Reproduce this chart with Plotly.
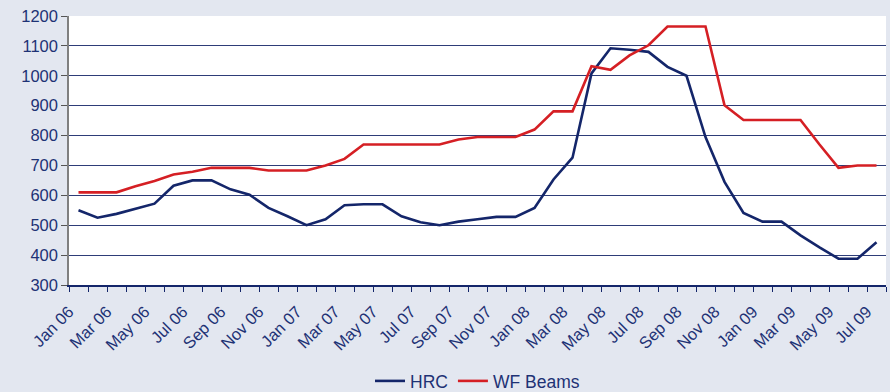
import plotly.graph_objects as go

months = ["Jan 06", "Feb 06", "Mar 06", "Apr 06", "May 06", "Jun 06", "Jul 06", "Aug 06",
          "Sep 06", "Oct 06", "Nov 06", "Dec 06", "Jan 07", "Feb 07", "Mar 07", "Apr 07",
          "May 07", "Jun 07", "Jul 07", "Aug 07", "Sep 07", "Oct 07", "Nov 07", "Dec 07",
          "Jan 08", "Feb 08", "Mar 08", "Apr 08", "May 08", "Jun 08", "Jul 08", "Aug 08",
          "Sep 08", "Oct 08", "Nov 08", "Dec 08", "Jan 09", "Feb 09", "Mar 09", "Apr 09",
          "May 09", "Jun 09", "Jul 09"]

hrc = [550, 525, 538, 555, 572, 632, 650, 650, 620, 602, 558, 530,
       500, 520, 567, 570, 570, 530, 510, 500, 512, 520, 528, 528,
       558, 653, 726, 1008, 1092, 1087, 1080, 1030, 1000, 795, 645, 541,
       512, 512, 466, 426, 388, 388, 443]

wf_beams = [610, 610, 610, 630, 648, 670, 679, 692, 692, 692, 683, 683,
            683, 700, 722, 770, 770, 770, 770, 770, 787, 795, 795, 795,
            820, 881, 881, 1032, 1020, 1068, 1102, 1165, 1165, 1165, 901, 852,
            852, 852, 852, 770, 692, 700, 700]

y_ticks = [300, 400, 500, 600, 700, 800, 900, 1000, 1100, 1200]

NAVY = "#14266A"
RED = "#D51F24"
TEXT = "#1E3275"
BG = "#E3E7F0"

idx = list(range(len(months)))

# tick marks sit on category boundaries; every second month gets a label
bounds = [i - 0.5 for i in range(len(months) + 1)]
bound_text = [months[i] if i < len(months) and i % 2 == 0 else "" for i in range(len(months) + 1)]

fig = go.Figure()
fig.add_trace(go.Scatter(x=idx, y=hrc, name="HRC", mode="lines",
                         line=dict(color=NAVY, width=2.6)))
fig.add_trace(go.Scatter(x=idx, y=wf_beams, name="WF Beams", mode="lines",
                         line=dict(color=RED, width=2.6)))

fig.update_layout(
    width=890, height=392,
    margin=dict(l=69, r=4, t=16, b=107, autoexpand=False),
    paper_bgcolor=BG,
    plot_bgcolor="white",
    font=dict(family="Liberation Sans, Arial, sans-serif", color=TEXT, size=16),
    showlegend=True,
    legend=dict(orientation="h", x=0.5, xanchor="center",
                yref="container", y=0.028, yanchor="middle",
                font=dict(size=17.5, color=TEXT), bgcolor="rgba(0,0,0,0)",
                itemwidth=30, tracegroupgap=0),
)

fig.update_xaxes(
    range=[-0.5, len(months) - 0.5], automargin=False,
    tickmode="array", tickvals=bounds, ticktext=bound_text,
    tickangle=-45, tickfont=dict(size=16.5, color=TEXT), ticklabelstandoff=4,
    ticks="outside", ticklen=5, tickwidth=1, tickcolor=NAVY,
    showline=True, linecolor=NAVY, linewidth=1.5,
    showgrid=False, zeroline=False,
)

fig.update_yaxes(
    range=[300, 1200], automargin=False,
    tickmode="array", tickvals=y_ticks,
    tickfont=dict(size=16.5, color=TEXT),
    ticks="outside", ticklen=6, tickwidth=1, tickcolor="#555555",
    showline=True, linecolor="#808080", linewidth=1.5,
    showgrid=True, gridcolor="#2E3D78", gridwidth=1,
    zeroline=False,
)

fig.write_html("out.html")
